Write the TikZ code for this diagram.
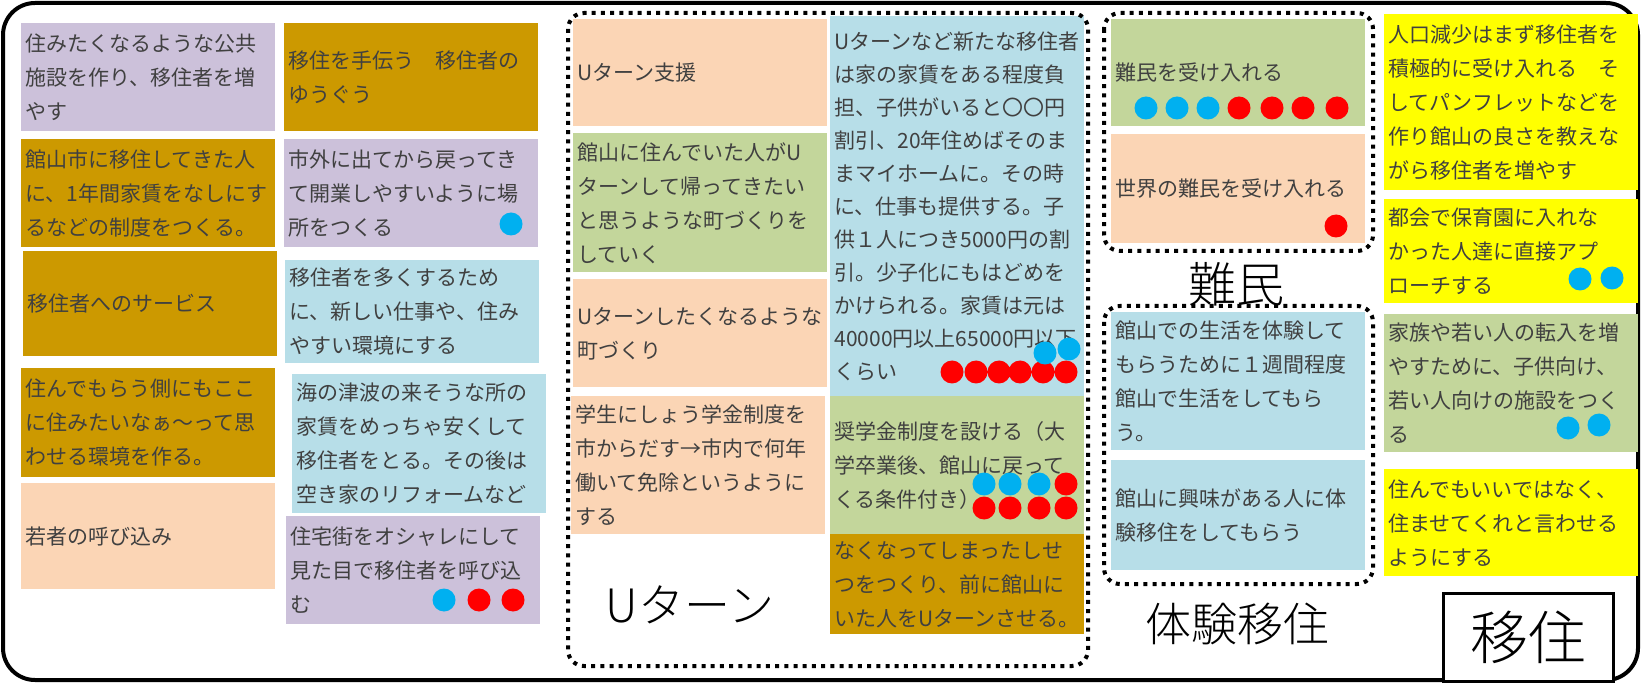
\documentclass[tikz,border=0pt]{standalone}
\usepackage{fontspec}
\setmainfont{Noto Sans CJK JP}
\newfontfamily\lightfont{Noto Sans CJK JP Light}
\definecolor{cardlilac}{RGB}{204,193,218}
\definecolor{cardgold}{RGB}{204,153,0}
\definecolor{cardblue}{RGB}{183,222,232}
\definecolor{cardpeach}{RGB}{251,213,181}
\definecolor{cardgreen}{RGB}{195,214,155}
\definecolor{cardyellow}{RGB}{255,255,0}
\definecolor{voteblue}{RGB}{0,176,240}
\definecolor{votered}{RGB}{255,0,0}
\tikzset{
    card/.style={rectangle, anchor=north west, inner xsep=2pt, inner ysep=0pt, text width=123pt, align=left, font=\fontsize{10.5}{17}\selectfont, text=black!75},
    group/.style={draw, line width=2pt, dash pattern=on 2pt off 2.6pt, rounded corners=8pt},
    biglabel/.style={inner sep=0pt, font=\lightfont\fontsize{23}{23}\selectfont}
}
\begin{document}
\begin{tikzpicture}[x=0.5pt, y=-0.5pt]
    \useasboundingbox (0,0) rectangle (1641,683);

    % Outer frame
    \draw[line width=2pt, rounded corners=16pt] (3,3) rectangle (1638,680);

    % Left columns
    \node[card, fill=cardlilac, minimum height=54pt] (kokyo) at (21,23) {住みたくなるような公共\\施設を作り、移住者を増\\やす};
    \node[card, fill=cardgold, minimum height=54pt] (tetsudau) at (284,23) {移住を手伝う　移住者の\\ゆうぐう};
    \node[card, fill=cardgold, minimum height=54pt] (yachin) at (21,139) {館山市に移住してきた人\\に、1年間家賃をなしにす\\るなどの制度をつくる。};
    \node[card, fill=cardlilac, minimum height=54pt] (kaigyo) at (284,139) {市外に出てから戻ってき\\て開業しやすいように場\\所をつくる};
    \node[card, fill=cardgold, minimum height=52.5pt] (service) at (23,251) {移住者へのサービス};
    \node[card, fill=cardblue, minimum height=51.5pt] (shigoto) at (285,260) {移住者を多くするため\\に、新しい仕事や、住み\\やすい環境にする};
    \node[card, fill=cardgold, minimum height=54.5pt] (kankyo) at (21,368) {住んでもらう側にもここ\\に住みたいなぁ〜って思\\わせる環境を作る。};
    \node[card, fill=cardblue, minimum height=69.5pt] (tsunami) at (292,374) {海の津波の来そうな所の\\家賃をめっちゃ安くして\\移住者をとる。その後は\\空き家のリフォームなど};
    \node[card, fill=cardpeach, minimum height=53pt] (wakamono) at (21,483) {若者の呼び込み};
    \node[card, fill=cardlilac, minimum height=54pt] (oshare) at (286,516) {住宅街をオシャレにして\\見た目で移住者を呼び込\\む};

    % U-turn group
    \node[card, fill=cardpeach, minimum height=53.5pt] (shien) at (573,19) {Uターン支援};
    \node[card, fill=cardgreen, minimum height=69.5pt] (machi) at (573,133) {館山に住んでいた人がU\\ターンして帰ってきたい\\と思うような町づくりを\\していく};
    \node[card, fill=cardpeach, minimum height=54pt] (machi2) at (573,279) {Uターンしたくなるような\\町づくり};
    \node[card, fill=cardpeach, minimum height=69pt] (gakusei) at (571,396) {学生にしょう学金制度を\\市からだす→市内で何年\\働いて免除というように\\する};
    \node[card, fill=cardblue, minimum height=190pt, font=\fontsize{10.5}{16.5}\selectfont] (futan) at (830,16) {Uターンなど新たな移住者\\は家の家賃をある程度負\\担、子供がいると〇〇円\\割引、20年住めばそのま\\まマイホームに。その時\\に、仕事も提供する。子\\供１人につき5000円の割\\引。少子化にもはどめを\\かけられる。家賃は元は\\40000円以上65000円以下\\くらい};
    \node[card, fill=cardgreen, minimum height=69pt] (shogaku) at (830,396) {奨学金制度を設ける（大\\学卒業後、館山に戻って\\くる条件付き）\\[14pt]};
    \node[card, fill=cardgold, minimum height=50pt] (shisetsu) at (830,534) {なくなってしまったしせ\\つをつくり、前に館山に\\いた人をUターンさせる。};
    \draw[group] (568,13) rectangle (1088,666);
    \node[biglabel] (uturn) at (690,605) {Uターン};

    % Refugees and trial stay
    \node[card, fill=cardgreen, minimum height=53.5pt] (ukeire) at (1111,19) {難民を受け入れる\\[14pt]};
    \node[card, fill=cardpeach, minimum height=54.5pt] (sekai) at (1111,134) {世界の難民を受け入れる\\[12pt]};
    \draw[group] (1104,13) rectangle (1373,251);
    \node[biglabel, font=\lightfont\fontsize{24}{24}\selectfont] (nanmin) at (1236,284) {難民};
    \node[card, fill=cardblue, minimum height=69pt] (taiken) at (1111,312) {館山での生活を体験して\\もらうために１週間程度\\館山で生活をしてもら\\う。};
    \node[card, fill=cardblue, minimum height=55pt] (kyomi) at (1111,460) {館山に興味がある人に体\\験移住をしてもらう};
    \draw[group] (1104,306) rectangle (1373,584);
    \node[biglabel] (taikenlabel) at (1237,624) {体験移住};

    % Right column
    \node[card, fill=cardyellow, minimum height=88pt] (jinko) at (1384,14) {人口減少はまず移住者を\\積極的に受け入れる　そ\\してパンフレットなどを\\作り館山の良さを教えな\\がら移住者を増やす};
    \node[card, fill=cardyellow, minimum height=52pt] (hoikuen) at (1384,199) {都会で保育園に入れな\\かった人達に直接アプ\\ローチする};
    \node[card, fill=cardgreen, minimum height=69pt] (kazoku) at (1384,314) {家族や若い人の転入を増\\やすために、子供向け、\\若い人向けの施設をつく\\る};
    \node[card, fill=cardyellow, minimum height=53.5pt] (sumase) at (1384,469) {住んでもいいではなく、\\住ませてくれと言わせる\\ようにする};
    \node[draw, fill=white, line width=1.5pt, anchor=north west, minimum width=85pt, minimum height=44pt, inner sep=0pt, font=\lightfont\fontsize{29}{29}\selectfont] (iju) at (1442,592) {移住};

    % Votes
    \fill[voteblue] (511,224) circle (5.75pt) (444,600) circle (5.75pt);
    \fill[votered] (479,600) circle (5.75pt) (513,600) circle (5.75pt);
    \fill[votered] (952,372) circle (5.75pt) (976,372) circle (5.75pt) (999,372) circle (5.75pt)
        (1020,372) circle (5.75pt) (1043,372) circle (5.75pt) (1066,372) circle (5.75pt);
    \fill[voteblue] (1045,353) circle (5.75pt) (1069,349) circle (5.75pt);
    \fill[voteblue] (984,484) circle (5.75pt) (1010,484) circle (5.75pt) (1039,484) circle (5.75pt);
    \fill[votered] (1066,484) circle (5.75pt) (984,508) circle (5.75pt) (1010,508) circle (5.75pt)
        (1039,508) circle (5.75pt) (1066,508) circle (5.75pt);
    \fill[voteblue] (1146,108) circle (5.75pt) (1177,108) circle (5.75pt) (1208,108) circle (5.75pt);
    \fill[votered] (1239,108) circle (5.75pt) (1272,108) circle (5.75pt) (1303,108) circle (5.75pt)
        (1337,108) circle (5.75pt) (1336,226) circle (5.75pt);
    \fill[voteblue] (1580,279) circle (5.75pt) (1612,278) circle (5.75pt)
        (1568,428) circle (5.75pt) (1599,425) circle (5.75pt);

\end{tikzpicture}
\end{document}
